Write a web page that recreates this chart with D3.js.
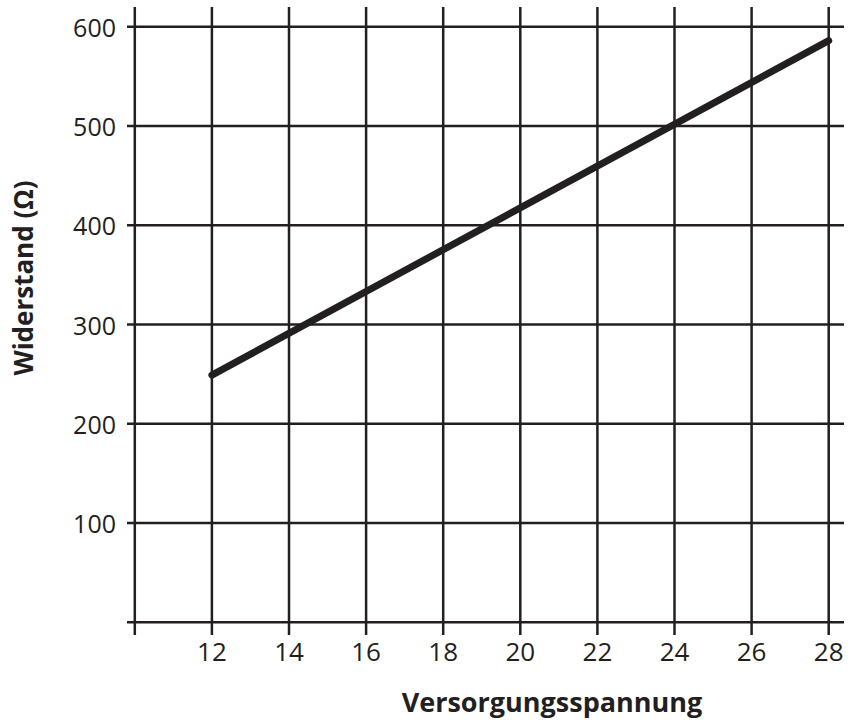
<!DOCTYPE html>
<html><head><meta charset="utf-8">
<script src="https://cdn.jsdelivr.net/npm/d3@7"></script>
<style>body{margin:0;background:#fff;} text{font-family:"Open Sans",sans-serif;fill:#231f20;}</style>
</head><body>
<script>
const xTicks = [12,14,16,18,20,22,24,26,28];
const yTicks = [100,200,300,400,500,600];
const lineX = [12, 28];
const lineY = [249, 586];
const xLabel = "Versorgungsspannung";
const yLabel = "Widerstand (\u03A9)";

const W = 850, H = 722;
const svg = d3.select("body").append("svg").attr("width", W).attr("height", H);
const x = d3.scaleLinear().domain([10, 28]).range([134.8, 828.7]);
const y = d3.scaleLinear().domain([0, 600]).range([622.3, 26.7]);
const col = "#231f20";
const g = svg.append("g");

// vertical grid lines (including axis at 10)
[10, ...xTicks].forEach(v => {
  g.append("line").attr("x1", x(v)).attr("x2", x(v)).attr("y1", 7).attr("y2", 635)
    .attr("stroke", col).attr("stroke-width", 2.5);
});
// horizontal grid lines (including axis at 0)
[0, ...yTicks].forEach(v => {
  g.append("line").attr("x1", 127).attr("x2", 844).attr("y1", y(v)).attr("y2", y(v))
    .attr("stroke", col).attr("stroke-width", 2.5);
});
// tick labels
xTicks.forEach(v => {
  g.append("text").attr("x", x(v)).attr("y", 661).attr("text-anchor", "middle")
    .attr("font-size", 26).text(v);
});
yTicks.forEach(v => {
  g.append("text").attr("x", 116).attr("y", y(v) + 10).attr("text-anchor", "end")
    .attr("font-size", 25).text(v);
});
// data line
const data = lineX.map((d, i) => [d, lineY[i]]);
g.append("path").datum(data)
  .attr("d", d3.line().x(d => x(d[0])).y(d => y(d[1])))
  .attr("fill", "none").attr("stroke", col).attr("stroke-width", 7).attr("stroke-linecap", "round");
// axis titles
svg.append("text").attr("x", 552).attr("y", 712).attr("text-anchor", "middle")
  .attr("font-size", 27).attr("font-weight", "bold").text(xLabel);
svg.append("text").attr("transform", "translate(33,278) rotate(-90)").attr("text-anchor", "middle")
  .attr("font-size", 26).attr("font-weight", "bold").text(yLabel);
</script>
</body></html>
